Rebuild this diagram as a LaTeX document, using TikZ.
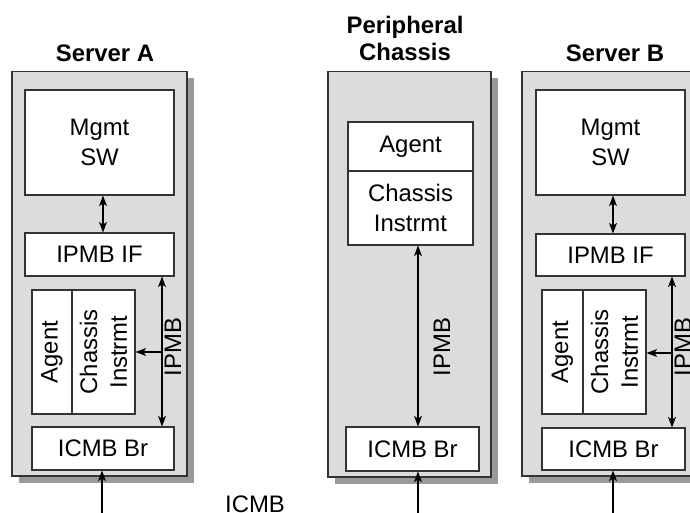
\documentclass[tikz,border=0pt]{standalone}
\usepackage{fontspec}
\setmainfont{Liberation Sans}
\usetikzlibrary{arrows.meta,shadows}
\definecolor{unitgray}{HTML}{DCDCDC}
\definecolor{shadegray}{HTML}{9A9A9A}
\definecolor{linegray}{HTML}{333333}
\newcommand\diagfont{\fontsize{13.6}{17}\selectfont}
\tikzset{
  unit/.style={draw=linegray, fill=unitgray, line width=0.6pt, inner sep=0pt,
    drop shadow={shadow xshift=0.14cm, shadow yshift=-0.14cm, fill=shadegray, opacity=1}},
  block/.style={draw=linegray, fill=white, line width=0.6pt, inner sep=0pt, align=center},
  title/.style={font=\diagfont\bfseries, align=center},
  bus/.style={line width=0.6pt, -{Stealth[length=6pt,width=4.5pt,inset=1.5pt]}},
  busboth/.style={line width=0.6pt, {Stealth[length=6pt,width=4.5pt,inset=1.5pt]}-{Stealth[length=6pt,width=4.5pt,inset=1.5pt]}}
}
\begin{document}
\begin{tikzpicture}[x=0.02cm, y=-0.02cm, font=\diagfont]
\useasboundingbox (0,0) rectangle (690,512);
\clip (0,0) rectangle (690,512);
\node[title] (titleA) at (105,53) {Server A};
\node[title, font=\fontsize{13.6}{15.4}\selectfont\bfseries] (titleP) at (405,38.5) {Peripheral\\Chassis};
\node[title] (titleB) at (615,53) {Server B};
\node[unit, minimum width=3.5cm, minimum height=8.1cm] (serverA) at (99.5,273.5) {};
\node[unit, minimum width=3.26cm, minimum height=8.12cm] (chassisP) at (409.5,274) {};
\node[unit, minimum width=3.5cm, minimum height=8.1cm] (serverB) at (609.5,273.5) {};
\node[block, minimum width=2.98cm, minimum height=2.1cm] (mgmtA) at (99.5,142.5) {Mgmt\\SW};
\node[block, minimum width=2.98cm, minimum height=0.86cm] (ifA) at (99.5,254.5) {IPMB IF};
\node[block, minimum width=2.48cm, minimum height=0.8cm, rotate=90] (agentA) at (52,352) {Agent};
\node[block, minimum width=2.48cm, minimum height=1.26cm, rotate=90] (instrA) at (103.5,352) {Chassis\\Instrmt};
\node[block, minimum width=2.84cm, minimum height=0.86cm] (icmbA) at (103,448.5) {ICMB Br};
\node[block, minimum width=2.5cm, minimum height=0.98cm] (agentP) at (410.5,146.5) {Agent};
\node[block, minimum width=2.5cm, minimum height=1.48cm] (instrP) at (410.5,208) {Chassis\\Instrmt};
\node[block, minimum width=2.66cm, minimum height=0.88cm] (icmbP) at (412.5,449) {ICMB Br};
\node[block, minimum width=2.98cm, minimum height=2.1cm] (mgmtB) at (610.5,142.5) {Mgmt\\SW};
\node[block, minimum width=2.98cm, minimum height=0.84cm] (ifB) at (610.5,255) {IPMB IF};
\node[block, minimum width=2.48cm, minimum height=0.82cm, rotate=90] (agentB) at (562.5,352) {Agent};
\node[block, minimum width=2.48cm, minimum height=1.26cm, rotate=90] (instrB) at (614.5,352) {Chassis\\Instrmt};
\node[block, minimum width=2.86cm, minimum height=0.84cm] (icmbB) at (613.5,449) {ICMB Br};
\coordinate (ipmbA) at (162,352);
\coordinate (ipmbP) at (418,347);
\coordinate (ipmbB) at (672,353);
\coordinate (icmbinA) at (102,515);
\coordinate (icmbinP) at (418,515);
\coordinate (icmbinB) at (613,515);
\node[rotate=90] (busA) at (173,347) {IPMB};
\node[rotate=90] (busP) at (442,347) {IPMB};
\node[rotate=90] (busB) at (683,347) {IPMB};
\node (icmbtext) at (255,504) {ICMB};
\draw[busboth] (icmbA |- mgmtA.south) -- (icmbA |- ifA.north);
\draw[busboth] (ipmbA |- ifA.south) -- (ipmbA |- icmbA.north);
\draw[bus] (ipmbA) -- (ipmbA -| instrA.south);
\draw[bus] (icmbinA) -- (icmbinA |- icmbA.south);
\draw[busboth] (ipmbP |- instrP.south) -- (ipmbP |- icmbP.north);
\draw[bus] (icmbinP) -- (icmbinP |- icmbP.south);
\draw[busboth] (icmbinB |- mgmtB.south) -- (icmbinB |- ifB.north);
\draw[busboth] (ipmbB |- ifB.south) -- (ipmbB |- icmbB.north);
\draw[bus] (ipmbB) -- (ipmbB -| instrB.south);
\draw[bus] (icmbinB) -- (icmbinB |- icmbB.south);
\end{tikzpicture}
\end{document}
